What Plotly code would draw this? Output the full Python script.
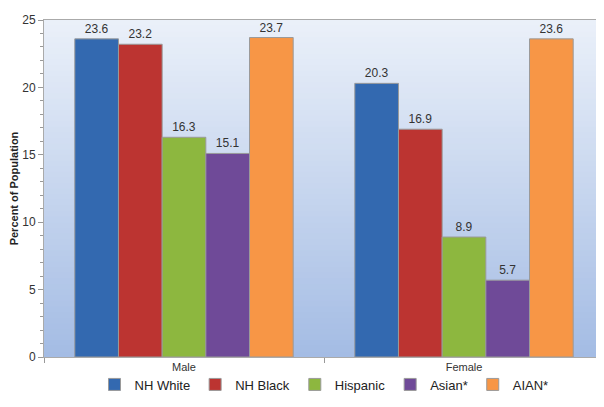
import plotly.graph_objects as go

categories = ["Male", "Female"]
series_names = ["NH White", "NH Black", "Hispanic", "Asian*", "AIAN*"]
nh_white = [23.6, 20.3]
nh_black = [23.2, 16.9]
hispanic = [16.3, 8.9]
asian = [15.1, 5.7]
aian = [23.7, 23.6]
y_ticks = [0, 5, 10, 15, 20, 25]

values = [nh_white, nh_black, hispanic, asian, aian]
colors = ["#3369B0", "#BC3431", "#8DB73F", "#6F4A98", "#F79646"]

fig = go.Figure()
for name, vals, col in zip(series_names, values, colors):
    fig.add_trace(go.Bar(
        x=categories, y=vals, name=name,
        marker=dict(color=col, line=dict(color="#9a9a9a", width=1)),
        text=[f"{v:.1f}" for v in vals], textposition="outside",
        textfont=dict(size=12, color="#333333"), cliponaxis=False,
    ))

# gradient background made of overlapping thin strips (no seams)
shapes = []
n = 60
top = (234, 240, 249)
bot = (164, 188, 228)
for i in range(n):
    t = i / (n - 1)
    c = tuple(round(bot[k] + (top[k] - bot[k]) * t) for k in range(3))
    shapes.append(dict(
        type="rect", xref="x domain", yref="y domain",
        x0=0, x1=1, y0=i / n, y1=min(1, (i + 2) / n),
        fillcolor="rgb(%d,%d,%d)" % c, line=dict(width=0), layer="below",
    ))

fig.update_layout(
    width=604, height=407,
    margin=dict(l=36, r=8, t=12, b=58),
    paper_bgcolor="white", plot_bgcolor="rgba(0,0,0,0)",
    barmode="group", bargap=0.22, bargroupgap=0,
    font=dict(family="Liberation Sans, Arial, sans-serif", size=12, color="#333333"),
    shapes=shapes,
    showlegend=True,
    legend=dict(orientation="h", x=0.5, xanchor="center", yref="container", y=0.075,
                yanchor="middle",
                font=dict(size=13, color="#222222"), itemwidth=30, traceorder="normal",
                tracegroupgap=0, bgcolor="rgba(0,0,0,0)"),
)
fig.update_xaxes(
    showline=True, linecolor="#aaaaaa", mirror=True, tickson="boundaries",
    ticks="outside", ticklen=5, tickcolor="#999999", showgrid=False,
    tickfont=dict(size=11, color="#333333"), automargin=False,
)
fig.update_yaxes(
    range=[0, 25], tickvals=y_ticks, showline=True, linecolor="#aaaaaa", mirror=True,
    ticks="outside", ticklen=5, tickcolor="#999999", showgrid=False, zeroline=False,
    minor=dict(dtick=1, ticks="outside", ticklen=3, tickcolor="#999999"),
    tickfont=dict(size=12, color="#333333"), automargin=False,
    title=dict(text="<b>Percent of Population</b>", font=dict(size=11, color="#222222"), standoff=4),
)

fig.write_html("out.html")
